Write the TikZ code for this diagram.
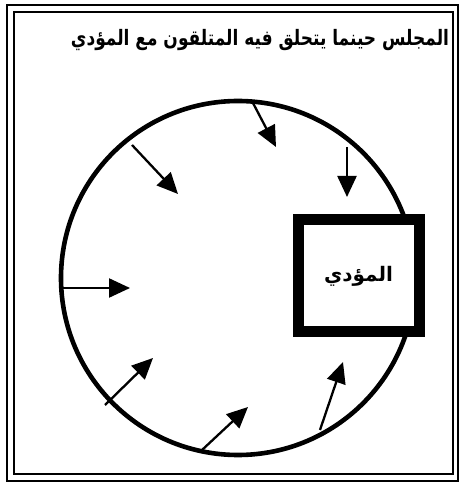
\documentclass[tikz,border=0pt]{standalone}
\usepackage{fontspec}
\newfontfamily\arabicfont[Script=Arabic]{DejaVu Sans}
\TeXXeTstate=1
\usetikzlibrary{arrows.meta,positioning}

\begin{document}
\begin{tikzpicture}[
    x=1pt, y=1pt,
    frame/.style={draw=black, line width=1.8pt},
    ring/.style={draw=black, circle, line width=4.6pt, minimum size=354pt, inner sep=0pt, outer sep=0pt},
    stage/.style={draw=black, fill=white, line width=11pt, minimum width=121pt, minimum height=112pt, inner sep=0pt, font=\arabicfont\bfseries\fontsize{20}{24}\selectfont},
    caption/.style={font=\arabicfont\bfseries\fontsize{17}{20}\selectfont, inner sep=0pt},
    arrow/.style={-{Triangle[length=21pt, width=19pt]}, line width=2.3pt, draw=black}
]
    \useasboundingbox (0,0) rectangle (460,483);

    % Double frame
    \draw[frame] (7,2) rectangle (458,478);
    \draw[frame] (14,9) rectangle (453,471);

    % Title
    \node[caption] (title) at (260,443) {\scalebox{1}[1.25]{\beginR المجلس حينما يتحلق فيه المتلقون مع المؤدي\endR}};

    % Audience ring and performer
    \node[ring] (majlis) at (238,205) {};
    \node[stage] (performer) at (358.5,207) {\beginR المؤدي\endR};

    % Arrow ends
    \coordinate (s1) at (253,380); \coordinate (t1) at (276,336);
    \coordinate (s2) at (132,338); \coordinate (t2) at (178,289);
    \coordinate (s3) at (62,195);  \coordinate (t3) at (130,195);
    \coordinate (s4) at (347,336); \coordinate (t4) at (347,286);
    \coordinate (s5) at (105,78);  \coordinate (t5) at (153,125);
    \coordinate (s6) at (202,33);  \coordinate (t6) at (248,76);
    \coordinate (s7) at (320,53);  \coordinate (t7) at (343,121);

    % Listeners facing the performer
    \foreach \i in {1,...,7}
        \draw[arrow] (s\i) -- (t\i);

\end{tikzpicture}
\end{document}
